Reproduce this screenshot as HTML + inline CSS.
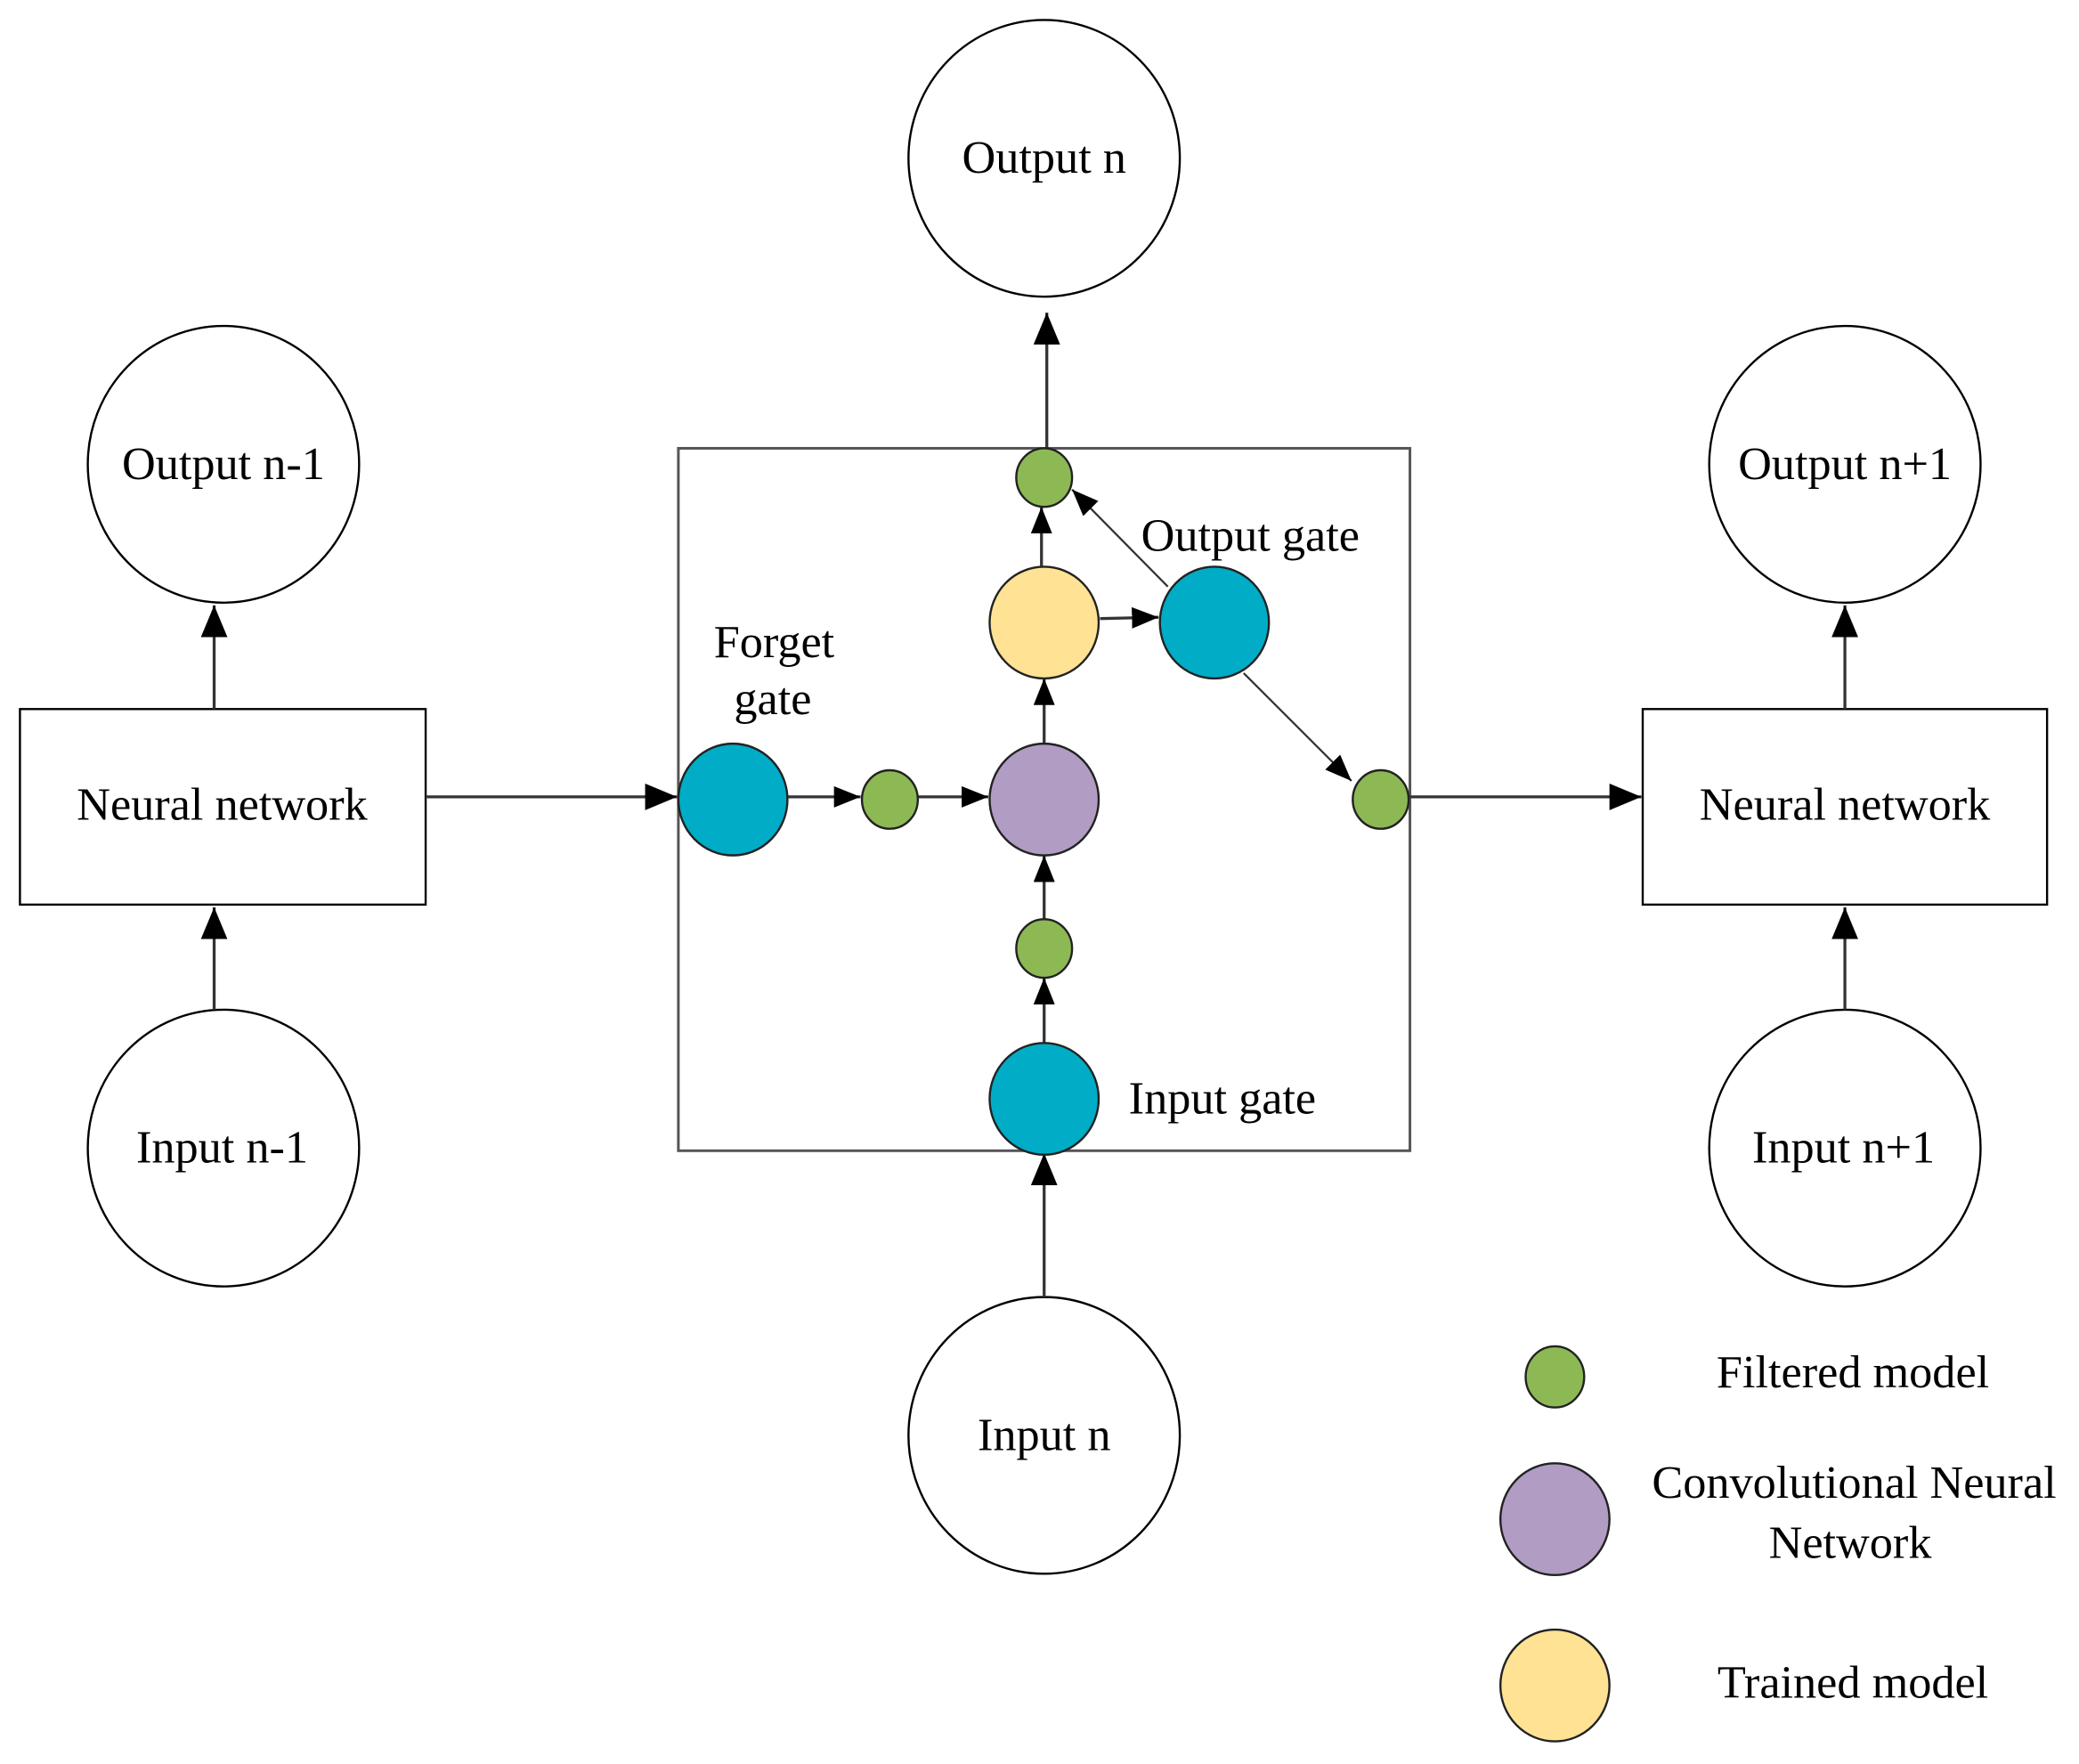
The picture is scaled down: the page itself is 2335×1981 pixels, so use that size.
<!DOCTYPE html>
<html><head><meta charset="utf-8"><style>html,body{margin:0;padding:0;background:#fff}svg{display:block}</style></head>
<body>
<svg width="2335" height="1981" viewBox="0 0 1563 1326" preserveAspectRatio="none" xmlns="http://www.w3.org/2000/svg" font-family="Liberation Serif, serif" font-size="35">
<defs>
<marker id="b" markerWidth="24" markerHeight="20" refX="24" refY="10" orient="auto" markerUnits="userSpaceOnUse" viewBox="0 0 24 20"><path d="M0,0 L24,10 L0,20 z" fill="#000"/></marker>
<marker id="s" markerWidth="20" markerHeight="16" refX="20" refY="8" orient="auto" markerUnits="userSpaceOnUse" viewBox="0 0 20 16"><path d="M0,0 L20,8 L0,16 z" fill="#000"/></marker>
</defs>
<g fill="#fff" stroke="#000" stroke-width="1.6">
<ellipse cx="785" cy="119" rx="102" ry="104"/>
<ellipse cx="168" cy="349" rx="102" ry="104"/>
<ellipse cx="1387" cy="349" rx="102" ry="104"/>
<ellipse cx="168" cy="863" rx="102" ry="104"/>
<ellipse cx="1387" cy="863" rx="102" ry="104"/>
<ellipse cx="785" cy="1079" rx="102" ry="104"/>
<rect x="15" y="533" width="305" height="147"/>
<rect x="1235" y="533" width="304" height="147"/>
<rect x="510" y="337" width="550" height="528" stroke="#555" stroke-width="2"/>
</g>
<g stroke="#333" stroke-width="2.2" fill="none">
<line x1="161" y1="533" x2="161" y2="455" marker-end="url(#b)"/>
<line x1="161" y1="759" x2="161" y2="682" marker-end="url(#b)"/>
<line x1="1387" y1="533" x2="1387" y2="455" marker-end="url(#b)"/>
<line x1="1387" y1="759" x2="1387" y2="682" marker-end="url(#b)"/>
<line x1="787" y1="337" x2="787" y2="235" marker-end="url(#b)"/>
<line x1="785" y1="975" x2="785" y2="867" marker-end="url(#b)"/>
<line x1="320" y1="599" x2="509" y2="599" marker-end="url(#b)"/>
<line x1="1060" y1="599" x2="1234" y2="599" marker-end="url(#b)"/>
<line x1="592" y1="599" x2="647" y2="599" marker-end="url(#s)"/>
<line x1="690" y1="599" x2="743" y2="599" marker-end="url(#s)"/>
<line x1="785" y1="784" x2="785" y2="735" marker-end="url(#s)"/>
<line x1="785" y1="692" x2="785" y2="643" marker-end="url(#s)"/>
<line x1="785" y1="560" x2="785" y2="510" marker-end="url(#s)"/>
<line x1="783" y1="427" x2="783" y2="381" marker-end="url(#s)"/>
<line x1="827" y1="465" x2="871" y2="464" marker-end="url(#s)"/>
<line x1="878" y1="441" x2="806" y2="368" stroke-width="1.5" marker-end="url(#s)"/>
<line x1="935" y1="506" x2="1016" y2="587" stroke-width="1.5" marker-end="url(#s)"/>
</g>
<g stroke="#222" stroke-width="1.6">
<ellipse cx="551" cy="601" rx="41" ry="42" fill="#00acc6"/>
<ellipse cx="669" cy="601" rx="21" ry="22" fill="#8db955"/>
<ellipse cx="785" cy="601" rx="41" ry="42" fill="#b19cc3"/>
<ellipse cx="785" cy="713" rx="21" ry="22" fill="#8db955"/>
<ellipse cx="785" cy="826" rx="41" ry="42" fill="#00acc6"/>
<ellipse cx="785" cy="468" rx="41" ry="42" fill="#ffe294"/>
<ellipse cx="785" cy="359" rx="21" ry="22" fill="#8db955"/>
<ellipse cx="913" cy="468" rx="41" ry="42" fill="#00acc6"/>
<ellipse cx="1038" cy="601" rx="21" ry="22" fill="#8db955"/>
<ellipse cx="1169" cy="1035" rx="22" ry="23" fill="#8db955"/>
<ellipse cx="1169" cy="1142" rx="41" ry="42" fill="#b19cc3"/>
<ellipse cx="1169" cy="1267" rx="41" ry="42" fill="#ffe294"/>
</g>
<g fill="#000" text-anchor="middle">
<text x="785" y="130">Output n</text>
<text x="168" y="360">Output n-1</text>
<text x="1387" y="360">Output n+1</text>
<text x="167" y="874">Input n-1</text>
<text x="1386" y="874">Input n+1</text>
<text x="785" y="1090">Input n</text>
<text x="167" y="616">Neural network</text>
<text x="1387" y="616">Neural network</text>
<text x="582" y="494">Forget</text>
<text x="581" y="537">gate</text>
<text x="940" y="414">Output gate</text>
<text x="919" y="837">Input gate</text>
<text x="1393" y="1043">Filtered model</text>
<text x="1394" y="1126">Convolutional Neural</text>
<text x="1391" y="1171">Network</text>
<text x="1393" y="1276">Trained model</text>
</g>
</svg>
</body></html>
